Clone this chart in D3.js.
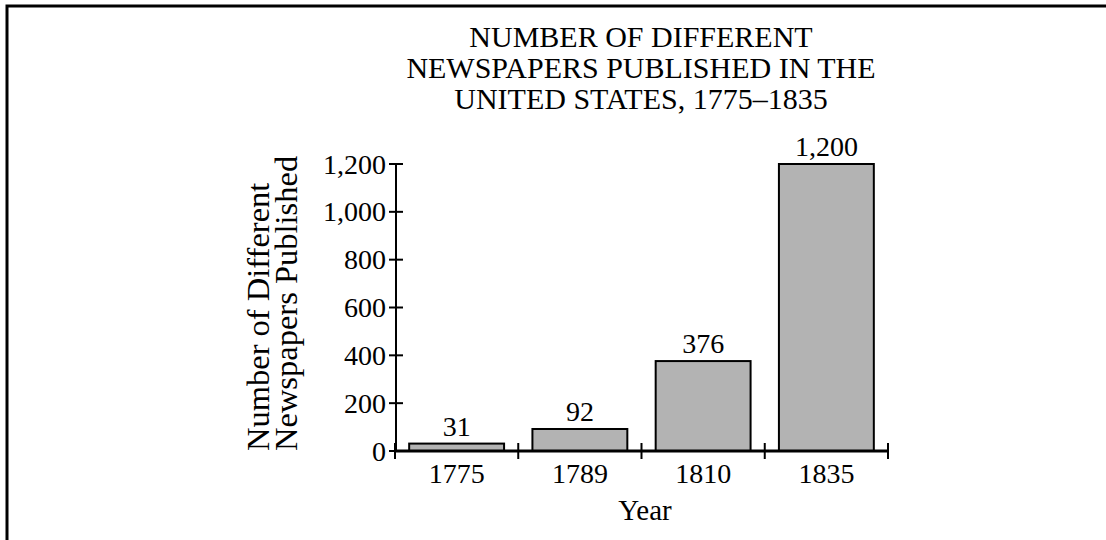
<!DOCTYPE html>
<html>
<head>
  <meta charset="utf-8">
  <title>Newspapers published in the United States</title>
  <script src="https://d3js.org/d3.v7.min.js"></script>
  <style>
    body { margin: 0; background: #fff; }
    text { font-family: "Liberation Serif", "DejaVu Serif", serif; fill: #000; }
  </style>
</head>
<body>
  <svg width="1106" height="540"></svg>
  <script>
// data
const years = ['1775', '1789', '1810', '1835'];
const counts = [31, 92, 376, 1200];
const countLabels = ['31', '92', '376', '1,200'];
const yTicks = [0, 200, 400, 600, 800, 1000, 1200];
const titleLines = ['NUMBER OF DIFFERENT', 'NEWSPAPERS PUBLISHED IN THE', 'UNITED STATES, 1775\u20131835'];
const yLabelLines = ['Number of Different', 'Newspapers Published'];

const svg = d3.select('svg');
const fs = 28;

// frame round the figure (only top and left edges show)
svg.append('rect')
  .attr('x', 7).attr('y', 6)
  .attr('width', 1200).attr('height', 700)
  .attr('fill', 'none')
  .attr('stroke', '#000')
  .attr('stroke-width', 3);

const x = d3.scaleBand()
  .domain(years)
  .range([395, 888])
  .paddingInner(0.23)
  .paddingOuter(0.115);

const y = d3.scaleLinear()
  .domain([0, 1200])
  .range([451, 164]);

const step = x.step();
const pad = step * x.paddingInner() / 2;

// bars
svg.append('g').selectAll('rect')
  .data(years)
  .join('rect')
  .attr('x', d => x(d))
  .attr('y', (d, i) => y(counts[i]))
  .attr('width', x.bandwidth())
  .attr('height', (d, i) => y(0) - y(counts[i]))
  .attr('fill', '#b3b3b3')
  .attr('stroke', '#000')
  .attr('stroke-width', 2);

// value labels
svg.append('g').selectAll('text')
  .data(years)
  .join('text')
  .attr('x', d => x(d) + x.bandwidth() / 2)
  .attr('y', (d, i) => y(counts[i]) - 8)
  .attr('text-anchor', 'middle')
  .attr('font-size', fs)
  .text((d, i) => countLabels[i]);

// y axis
const yAxis = svg.append('g');
yAxis.append('line')
  .attr('x1', 396).attr('x2', 396)
  .attr('y1', y(1200)).attr('y2', y(0))
  .attr('stroke', '#000').attr('stroke-width', 2);
yAxis.selectAll('.tick')
  .data(yTicks)
  .join('line')
  .attr('x1', 389).attr('x2', 403)
  .attr('y1', d => y(d)).attr('y2', d => y(d))
  .attr('stroke', '#000').attr('stroke-width', 2);
yAxis.selectAll('text')
  .data(yTicks)
  .join('text')
  .attr('x', 386)
  .attr('y', d => y(d))
  .attr('dy', '0.34em')
  .attr('text-anchor', 'end')
  .attr('font-size', fs)
  .text(d => d3.format(',')(d));

// x axis
const xAxis = svg.append('g');
xAxis.append('line')
  .attr('x1', 395).attr('x2', 888)
  .attr('y1', y(0)).attr('y2', y(0))
  .attr('stroke', '#000').attr('stroke-width', 3);
const bounds = years.map(d => x(d) - pad).concat([x(years[years.length - 1]) + x.bandwidth() + pad]);
xAxis.selectAll('.tick')
  .data(bounds)
  .join('line')
  .attr('x1', d => d).attr('x2', d => d)
  .attr('y1', y(0) - 8).attr('y2', y(0) + 8)
  .attr('stroke', '#000').attr('stroke-width', 2);
xAxis.selectAll('text')
  .data(years)
  .join('text')
  .attr('x', d => x(d) + x.bandwidth() / 2)
  .attr('y', 483)
  .attr('text-anchor', 'middle')
  .attr('font-size', fs)
  .text(d => d);

svg.append('text')
  .attr('x', 645).attr('y', 520)
  .attr('text-anchor', 'middle')
  .attr('font-size', 29)
  .text('Year');

// y axis title, two lines starting from the same point
svg.append('g')
  .attr('transform', 'translate(269,451) rotate(-90)')
  .selectAll('text')
  .data(yLabelLines)
  .join('text')
  .attr('x', 0)
  .attr('y', (d, i) => i * 28)
  .attr('text-anchor', 'start')
  .attr('font-size', 32.5)
  .text(d => d);

// chart title
svg.append('g').selectAll('text')
  .data(titleLines)
  .join('text')
  .attr('x', 641)
  .attr('y', (d, i) => 47 + i * 31)
  .attr('text-anchor', 'middle')
  .attr('font-size', 30)
  .text(d => d);
  </script>
</body>
</html>
